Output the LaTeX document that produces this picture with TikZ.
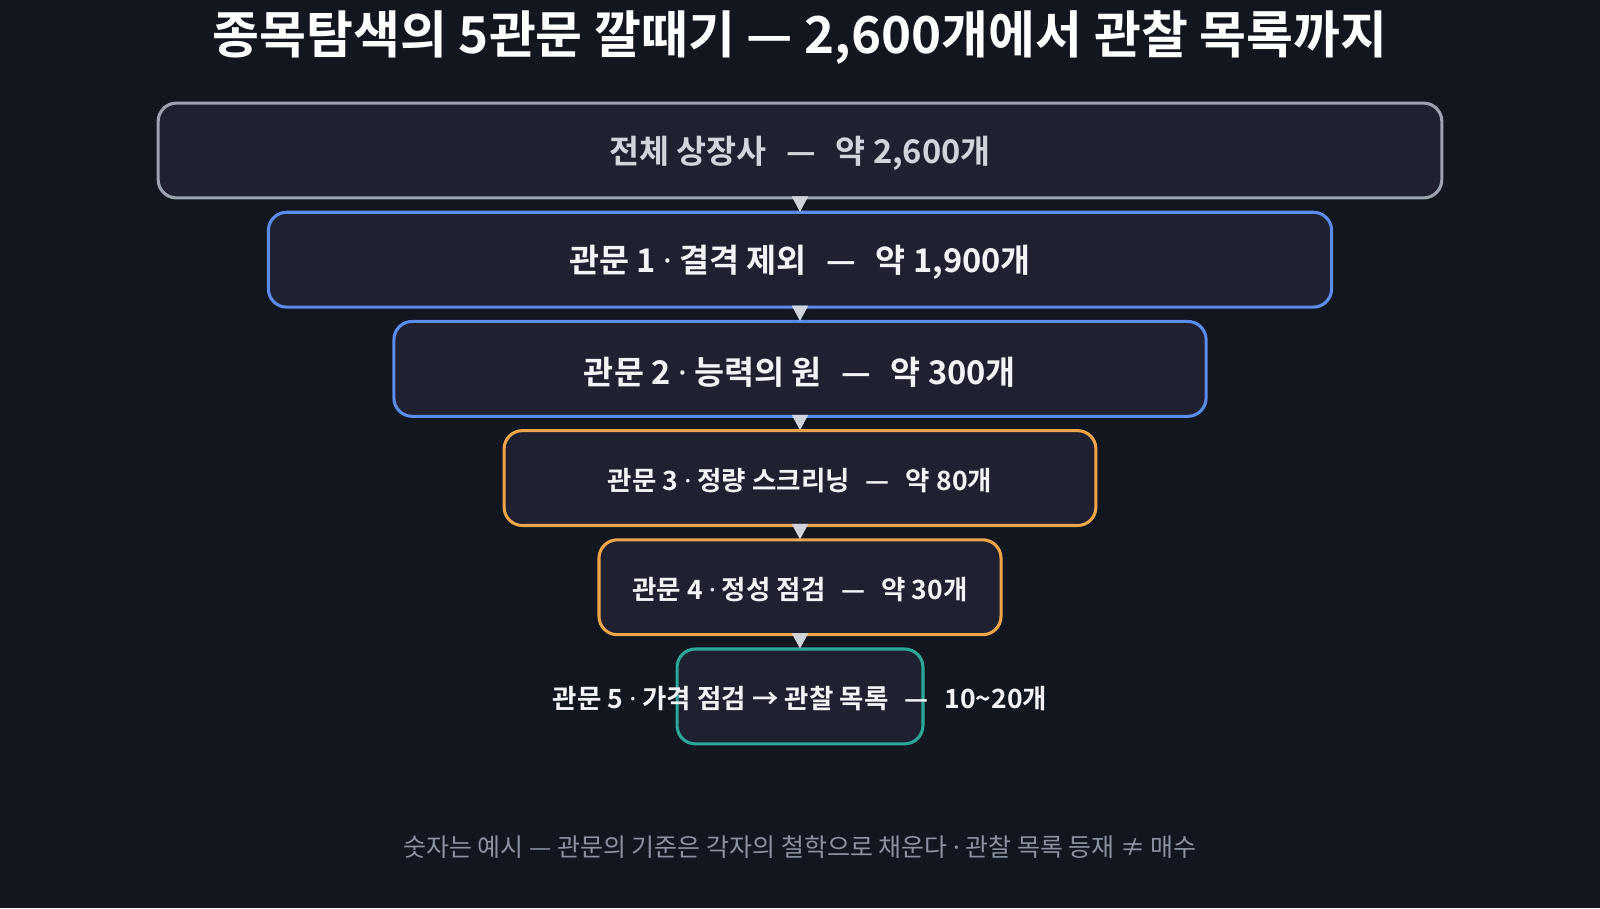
\documentclass[tikz,border=0pt]{standalone}
\usepackage{fontspec}
\setmainfont{Noto Sans CJK KR}
\newfontfamily\krbold{Noto Sans CJK KR Bold}
\newfontfamily\krreg{Noto Sans CJK KR}
\newfontfamily\latinsans{Noto Sans}
\newcommand{\mdot}{{\latinsans\bfseries ·}}
\newcommand{\mdotreg}{{\latinsans ·}}
\newcommand{\sep}{\hspace{0.6em}—\hspace{0.6em}}
\usetikzlibrary{arrows.meta}
\definecolor{bg}{HTML}{12161F}
\definecolor{boxfill}{HTML}{1F2131}
\definecolor{cgray}{HTML}{9CA3AF}
\definecolor{cblue}{HTML}{5B8DEF}
\definecolor{corange}{HTML}{F0A54A}
\definecolor{cteal}{HTML}{2BA89A}
\definecolor{txtgray}{HTML}{D1D5DB}
\definecolor{txtwhite}{HTML}{F3F4F6}
\definecolor{footgray}{HTML}{8B93A1}
\definecolor{arrowc}{HTML}{D1D5DB}
\tikzset{
  box/.style={rectangle, rounded corners=18pt, line width=3pt, fill=boxfill,
    minimum height=93pt, inner sep=0pt},
  bigtxt/.style={inner sep=0pt, text=txtwhite, yshift=-3pt, font=\krbold\fontsize{32}{38}\selectfont},
  smalltxt/.style={inner sep=0pt, text=txtwhite, yshift=-2pt, font=\krbold\fontsize{26}{31}\selectfont},
  flowarrow/.style={draw=arrowc, line width=0.5pt, -{Triangle[width=16pt,length=15pt]}, fill=arrowc, shorten <=-2pt, shorten >=-1pt}
}
\begin{document}
\begin{tikzpicture}[x=1pt,y=-1pt]
\fill[bg] (0,0) rectangle (1568,890);
\useasboundingbox (0,0) rectangle (1568,890);

\node[text=white, font=\krbold\fontsize{50}{58}\selectfont] (title) at (784,37) {종목탐색의 5관문 깔때기 — 2,600개에서 관찰 목록까지};

\node[box, draw=cgray, minimum width=1258pt] (b0) at (784,147.5) {};
\node[box, draw=cblue, minimum width=1042pt] (b1) at (784,254.5) {};
\node[box, draw=cblue, minimum width=796pt] (b2) at (784,361.5) {};
\node[box, draw=corange, minimum width=580pt] (b3) at (784,468.5) {};
\node[box, draw=corange, minimum width=394pt] (b4) at (784,575.5) {};
\node[box, draw=cteal, minimum width=241pt] (b5) at (784,682.5) {};

\node[bigtxt, text=txtgray] (t0) at (b0.center) {전체 상장사\sep 약 2,600개};
\node[bigtxt] (t1) at (b1.center) {관문 1 \mdot{} 결격 제외\sep 약 1,900개};
\node[bigtxt] (t2) at (b2.center) {관문 2 \mdot{} 능력의 원\sep 약 300개};
\node[smalltxt] (t3) at (b3.center) {관문 3 \mdot{} 정량 스크리닝\sep 약 80개};
\node[smalltxt] (t4) at (b4.center) {관문 4 \mdot{} 정성 점검\sep 약 30개};
\node[smalltxt] (t5) at (b5.center) {관문 5 \mdot{} 가격 점검 → 관찰 목록\sep 10\textasciitilde 20개};

\draw[flowarrow] (b0.south) -- (b1.north);
\draw[flowarrow] (b1.south) -- (b2.north);
\draw[flowarrow] (b2.south) -- (b3.north);
\draw[flowarrow] (b3.south) -- (b4.north);
\draw[flowarrow] (b4.south) -- (b5.north);

\node[text=footgray, font=\krreg\fontsize{24.5}{30}\selectfont] (foot) at (784,830) {숫자는 예시 — 관문의 기준은 각자의 철학으로 채운다 \mdotreg{} 관찰 목록 등재 ≠ 매수};
\end{tikzpicture}
\end{document}
